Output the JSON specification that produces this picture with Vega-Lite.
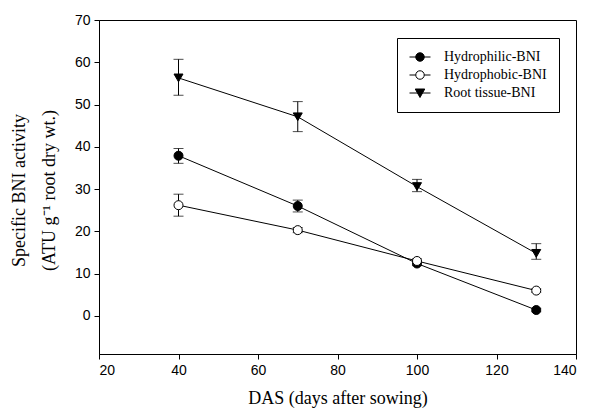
{
  "$schema": "https://vega.github.io/schema/vega-lite/v6.json",
  "width": 477,
  "height": 334,
  "autosize": {"type": "none"},
  "padding": {"left": 99, "top": 20, "right": 13, "bottom": 55},
  "background": "white",
  "config": {
    "view": {"stroke": "black", "strokeWidth": 1},
    "axis": {
      "grid": false,
      "domainColor": "black",
      "tickColor": "black",
      "tickSize": 5,
      "labelColor": "black",
      "labelFont": "Liberation Sans",
      "labelFontSize": 14,
      "labelPadding": 4,
      "titleColor": "black",
      "titleFont": "Liberation Serif",
      "titleFontSize": 18,
      "titleFontWeight": "normal"
    },
    "legend": {
      "labelFont": "Liberation Serif",
      "labelFontSize": 14,
      "labelColor": "black"
    }
  },
  "data": {
    "values": [
      {"das": 40, "series": "Hydrophilic-BNI", "v": 37.9, "lo": 36.1, "hi": 39.6},
      {"das": 70, "series": "Hydrophilic-BNI", "v": 26.0, "lo": 24.6, "hi": 27.4},
      {"das": 100, "series": "Hydrophilic-BNI", "v": 12.4, "lo": 11.9, "hi": 13.0},
      {"das": 130, "series": "Hydrophilic-BNI", "v": 1.4, "lo": 1.0, "hi": 1.8},
      {"das": 40, "series": "Hydrophobic-BNI", "v": 26.2, "lo": 23.6, "hi": 28.8},
      {"das": 70, "series": "Hydrophobic-BNI", "v": 20.3, "lo": 19.7, "hi": 20.9},
      {"das": 100, "series": "Hydrophobic-BNI", "v": 13.0, "lo": 12.5, "hi": 13.5},
      {"das": 130, "series": "Hydrophobic-BNI", "v": 6.0, "lo": 5.6, "hi": 6.4},
      {"das": 40, "series": "Root tissue-BNI", "v": 56.3, "lo": 52.2, "hi": 60.7},
      {"das": 70, "series": "Root tissue-BNI", "v": 47.1, "lo": 43.6, "hi": 50.7},
      {"das": 100, "series": "Root tissue-BNI", "v": 30.6, "lo": 29.4, "hi": 32.3},
      {"das": 130, "series": "Root tissue-BNI", "v": 14.8, "lo": 13.4, "hi": 17.1}
    ]
  },
  "encoding": {
    "x": {
      "field": "das",
      "type": "quantitative",
      "scale": {"domain": [20, 140], "nice": false, "zero": false},
      "axis": {"values": [20, 40, 60, 80, 100, 120, 140], "title": "DAS (days after sowing)", "titlePadding": 12}
    }
  },
  "layer": [
    {
      "mark": {"type": "line", "color": "black", "strokeWidth": 1},
      "encoding": {
        "y": {
          "field": "v",
          "type": "quantitative",
          "scale": {"domain": [-9, 70], "nice": false, "zero": false},
          "axis": {
            "values": [0, 10, 20, 30, 40, 50, 60, 70],
            "title": ["Specific BNI activity", "(ATU g⁻¹ root dry wt.)"],
            "titleLineHeight": 30,
            "titleAngle": -90,
            "titleBaseline": "top",
            "titleAlign": "center",
            "titleX": -89,
            "titleY": 170
          }
        },
        "detail": {"field": "series"}
      }
    },
    {
      "mark": {"type": "errorbar", "color": "black", "thickness": 1, "ticks": {"size": 10, "color": "black", "thickness": 1}},
      "encoding": {
        "y": {"field": "lo", "type": "quantitative", "title": ["Specific BNI activity", "(ATU g⁻¹ root dry wt.)"]},
        "y2": {"field": "hi"},
        "detail": {"field": "series"}
      }
    },
    {
      "transform": [{"filter": "datum.series === 'Hydrophilic-BNI'"}],
      "mark": {"type": "point", "shape": "circle", "size": 81, "stroke": "black", "strokeWidth": 1, "fill": "black", "opacity": 1},
      "encoding": {"y": {"field": "v", "type": "quantitative"}}
    },
    {
      "transform": [{"filter": "datum.series === 'Hydrophobic-BNI'"}],
      "mark": {"type": "point", "shape": "circle", "size": 81, "stroke": "black", "strokeWidth": 1, "fill": "white", "opacity": 1},
      "encoding": {"y": {"field": "v", "type": "quantitative"}}
    },
    {
      "transform": [{"filter": "datum.series === 'Root tissue-BNI'"}],
      "mark": {"type": "point", "shape": "triangle-down", "size": 81, "stroke": "black", "strokeWidth": 1, "fill": "black", "opacity": 1},
      "encoding": {"y": {"field": "v", "type": "quantitative"}}
    },
    {
      "mark": {"type": "point", "opacity": 0, "stroke": "black", "strokeWidth": 1},
      "encoding": {
        "y": {"field": "v", "type": "quantitative"},
        "shape": {
          "field": "series",
          "scale": {
            "domain": ["Hydrophilic-BNI", "Hydrophobic-BNI", "Root tissue-BNI"],
            "range": [
              "M-2.1,0H2.1M-0.85,0A0.85,0.85,0,1,0,0.85,0A0.85,0.85,0,1,0,-0.85,0Z",
              "M-2.1,0H-0.85M0.85,0H2.1M-0.85,0A0.85,0.85,0,1,0,0.85,0A0.85,0.85,0,1,0,-0.85,0Z",
              "M-2.1,0H2.1M-0.95,-0.8L0.95,-0.8L0,0.9Z"
            ]
          },
          "legend": {
            "title": null,
            "orient": "none",
            "legendX": 298,
            "legendY": 18,
            "strokeColor": "black",
            "fillColor": "white",
            "padding": 12,
            "symbolSize": 100,
            "symbolOffset": 4,
            "labelOffset": 17,
            "rowPadding": 4,
            "labelFont": "Liberation Serif",
            "labelFontSize": 14,
            "labelColor": "black",
            "symbolOpacity": 1,
            "symbolStrokeColor": "black",
            "symbolStrokeWidth": 1,
            "encode": {
              "symbols": {
                "update": {
                  "stroke": {"value": "black"},
                  "strokeWidth": {"value": 1},
                  "opacity": {"value": 1}
                }
              },
              "labels": {
                "update": {
                  "font": {"value": "Liberation Serif"},
                  "fontSize": {"value": 14}
                }
              }
            }
          }
        },
        "fill": {
          "field": "series",
          "scale": {"domain": ["Hydrophilic-BNI", "Hydrophobic-BNI", "Root tissue-BNI"], "range": ["black", "white", "black"]},
          "legend": {
            "title": null,
            "orient": "none",
            "legendX": 298,
            "legendY": 18,
            "strokeColor": "black",
            "fillColor": "white",
            "padding": 12,
            "symbolSize": 100,
            "symbolOffset": 4,
            "labelOffset": 17,
            "rowPadding": 4,
            "labelFont": "Liberation Serif",
            "labelFontSize": 14,
            "labelColor": "black",
            "symbolOpacity": 1,
            "symbolStrokeColor": "black",
            "symbolStrokeWidth": 1,
            "encode": {
              "symbols": {
                "update": {
                  "stroke": {"value": "black"},
                  "strokeWidth": {"value": 1},
                  "opacity": {"value": 1}
                }
              },
              "labels": {
                "update": {
                  "font": {"value": "Liberation Serif"},
                  "fontSize": {"value": 14}
                }
              }
            }
          }
        }
      }
    }
  ]
}
